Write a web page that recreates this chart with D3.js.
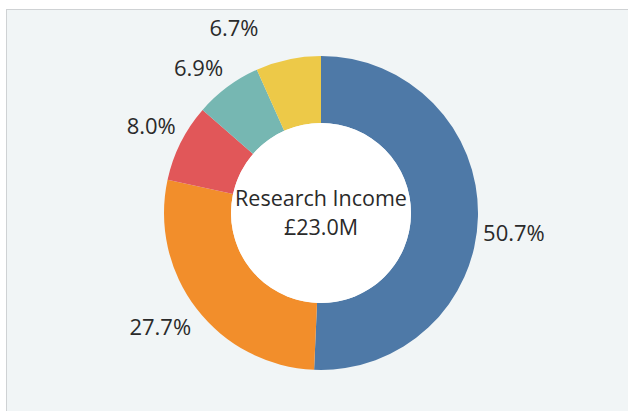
<!DOCTYPE html>
<html>
<head>
<meta charset="utf-8">
<script src="https://cdn.jsdelivr.net/npm/d3@7"></script>
<style>
  html, body { margin: 0; padding: 0; background: #ffffff; }
  svg { display: block; }
</style>
</head>
<body>
<div id="chart"></div>
<script>
const categories = ['A', 'B', 'C', 'D', 'E'];
const shares = [50.7, 27.7, 8.0, 6.9, 6.7];
const colors = ['#4e79a7', '#f28e2b', '#e15759', '#76b7b2', '#edc948'];
const centerTitle = 'Research Income';
const centerValue = '£23.0M';

// label layout tweaks (degrees / px) so labels sit like the original
const labelAngleShift = [4.8, 2.3, 0.6, -3.6, -13.2];
const labelRadiusShift = [0, 3, -3, -4, 10];

const width = 628, height = 411;
const cx = 321, cy = 213;
const outerR = 157, innerR = 90;

const svg = d3.select('#chart').append('svg')
  .attr('width', width).attr('height', height);

// panel
svg.append('rect')
  .attr('x', 6.5).attr('y', 9.5)
  .attr('width', width + 10).attr('height', height + 10)
  .attr('fill', '#f1f5f6').attr('stroke', '#cfd2d4').attr('stroke-width', 1);

const g = svg.append('g').attr('transform', `translate(${cx},${cy})`);

const data = categories.map((c, i) => ({ cat: c, value: shares[i], color: colors[i], i }));
const pie = d3.pie().value((d) => d.value).sort(null);
const arc = d3.arc().innerRadius(innerR).outerRadius(outerR);
const arcs = pie(data);

g.selectAll('path.slice').data(arcs).join('path')
  .attr('class', 'slice')
  .attr('d', arc)
  .attr('fill', (d) => d.data.color);

g.append('circle').attr('r', innerR).attr('fill', '#ffffff');

const labelR = 194;
g.selectAll('text.label').data(arcs).join('text')
  .attr('class', 'label')
  .attr('x', (d) => {
    const a = (d.startAngle + d.endAngle) / 2 + labelAngleShift[d.data.i] * Math.PI / 180;
    return Math.sin(a) * (labelR + labelRadiusShift[d.data.i]);
  })
  .attr('y', (d) => {
    const a = (d.startAngle + d.endAngle) / 2 + labelAngleShift[d.data.i] * Math.PI / 180;
    return -Math.cos(a) * (labelR + labelRadiusShift[d.data.i]);
  })
  .attr('dy', '0.36em')
  .attr('text-anchor', 'middle')
  .attr('font-family', '"Open Sans", sans-serif')
  .attr('font-size', 22)
  .attr('fill', '#2a2a2a')
  .text((d) => d3.format('.1f')(d.data.value) + '%');

g.append('text')
  .attr('y', -7).attr('text-anchor', 'middle')
  .attr('font-family', '"Open Sans", sans-serif').attr('font-size', 21.5)
  .attr('fill', '#2a2a2a').text(centerTitle);
g.append('text')
  .attr('y', 22).attr('text-anchor', 'middle')
  .attr('font-family', '"Open Sans", sans-serif').attr('font-size', 21.5)
  .attr('fill', '#2a2a2a').text(centerValue);
</script>
</body>
</html>
